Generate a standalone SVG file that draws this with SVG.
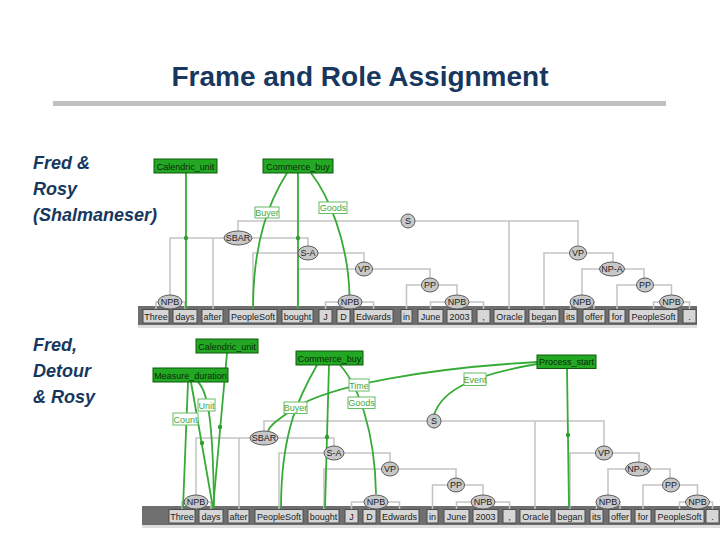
<svg xmlns="http://www.w3.org/2000/svg" width="720" height="540" viewBox="0 0 720 540">
<style>
.ttl{font-family:"Liberation Sans",Arial,sans-serif;font-weight:bold;font-size:28px;fill:#17375e}
.side{font-family:"Liberation Sans",Arial,sans-serif;font-weight:bold;font-style:italic;font-size:18px;fill:#17375e}
.t{stroke:#c3c3c3;stroke-width:1.5;fill:none}
.g{stroke:#36ab36;stroke-width:1.8;fill:none}
.dot{fill:#2e9e2e}
.nd ellipse{fill:#c8c8c8;stroke:#5a5a5a;stroke-width:1}
.nd text,.w text,.fr text,.rl text{font-family:"Liberation Sans",Arial,sans-serif;font-size:9px;text-anchor:middle}
.nd text{fill:#222}
.bar{fill:#6f6f6f}
.sh{fill:#dedede}
.w rect{fill:#d6d6d6;stroke:#4d4d4d;stroke-width:1}
.w text{fill:#222}
.fr rect{fill:#22a822;stroke:#0d5a0d;stroke-width:1}
.fr text{fill:#0a2a0a}
.rl rect{fill:#fff;stroke:#66bb66;stroke-width:1}
.rl text{fill:#44a844}
</style>
<rect width="720" height="540" fill="#fff"/>
<text class="ttl" x="360" y="86" text-anchor="middle">Frame and Role Assignment</text>
<rect x="53" y="101" width="613" height="5" fill="#c0c0c0"/>
<g id="label-top">
<text class="side" x="33" y="169">Fred &amp;</text>
<text class="side" x="33" y="195">Rosy</text>
<text class="side" x="33" y="221">(Shalmaneser)</text>
</g>
<g id="label-bottom">
<text class="side" x="33" y="351">Fred,</text>
<text class="side" x="33" y="377">Detour</text>
<text class="side" x="33" y="403">&amp; Rosy</text>
</g>
<!-- word bars -->
<rect class="bar" x="138" y="306" width="559" height="19"/>
<rect class="sh" x="138" y="325" width="559" height="3"/>
<rect class="bar" x="142" y="506" width="578" height="19"/>
<rect class="sh" x="142" y="525" width="578" height="3"/>
<g id="connectors">
<g id="tree-lines-1">
<path class="t" d="M238,231V221H578V246M509,221V309"/>
<path class="t" d="M170,295V238H308V246M213,238V309"/>
<path class="t" d="M156,309V302H185V309"/>
<path class="t" d="M253,309V253H364V262"/>
<path class="t" d="M298,309V269H430V278"/>
<path class="t" d="M406.5,309V285H457V295"/>
<path class="t" d="M430.5,309V302H483.5V309M459.5,302V309"/>
<path class="t" d="M325.5,309V302H373.5V309M343.5,302V309"/>
<path class="t" d="M544,309V253H613V262"/>
<path class="t" d="M582,295V269H644V278"/>
<path class="t" d="M617,309V285H671.5V295"/>
<path class="t" d="M570.5,309V302H594V309"/>
<path class="t" d="M653.5,309V302H689.5V309"/>
</g>
<g id="tree-lines-2" transform="translate(26,200)">
<path class="t" d="M238,231V221H578V246M509,221V309"/>
<path class="t" d="M170,295V238H308V246M213,238V309"/>
<path class="t" d="M156,309V302H185V309"/>
<path class="t" d="M253,309V253H364V262"/>
<path class="t" d="M298,309V269H430V278"/>
<path class="t" d="M406.5,309V285H457V295"/>
<path class="t" d="M430.5,309V302H483.5V309M459.5,302V309"/>
<path class="t" d="M325.5,309V302H373.5V309M343.5,302V309"/>
<path class="t" d="M544,309V253H613V262"/>
<path class="t" d="M582,295V269H644V278"/>
<path class="t" d="M617,309V285H671.5V295"/>
<path class="t" d="M570.5,309V302H594V309"/>
<path class="t" d="M653.5,309V302H686.5V309"/>
</g>
<g id="frame-lines-1">
<path class="g" d="M186,173V309"/>
<path class="g" d="M298,173V309"/>
<path class="g" d="M287,173C270,200 253,240 253,309"/>
<path class="g" d="M311,173C328,195 348,240 349.5,295"/>
<circle class="dot" cx="186" cy="238" r="2.2"/>
<circle class="dot" cx="298" cy="238" r="2.2"/>
</g>
<g id="frame-lines-2">
<path class="g" d="M227,353L213,508"/>
<path class="g" d="M188,382L183,508"/>
<path class="g" d="M191,382L213,508"/>
<path class="g" d="M198,382C208,392 213,420 214,508"/>
<path class="g" d="M329,365L325,508"/>
<path class="g" d="M317,365C300,395 281,430 281,508"/>
<path class="g" d="M340,365C358,385 375,430 376,494"/>
<path class="g" d="M537,362C430,368 330,385 295,408C280,418 270,425 268,431"/>
<path class="g" d="M537,364Q490,372 465,384Q440,396 434,415"/>
<path class="g" d="M567,368L569,508"/>
<circle class="dot" cx="220" cy="427" r="2.2"/>
<circle class="dot" cx="202" cy="443" r="2.2"/>
<circle class="dot" cx="327" cy="437" r="2.2"/>
<circle class="dot" cx="568" cy="435" r="2.2"/>
</g>
</g>
<!-- tree 1 nodes -->
<g id="tree1">
<g class="nd" id="S-1"><ellipse cx="408" cy="221" rx="7" ry="7"/><text x="408" y="224.2">S</text></g>
<g class="nd" id="SBAR-1"><ellipse cx="238" cy="238" rx="14" ry="7"/><text x="238" y="241.2">SBAR</text></g>
<g class="nd" id="NPB1-1"><ellipse cx="170" cy="302" rx="12" ry="7"/><text x="170" y="305.2">NPB</text></g>
<g class="nd" id="SA-1"><ellipse cx="308" cy="253" rx="10" ry="7"/><text x="308" y="256.2">S-A</text></g>
<g class="nd" id="VP1-1"><ellipse cx="364" cy="269" rx="8.5" ry="7"/><text x="364" y="272.2">VP</text></g>
<g class="nd" id="PP1-1"><ellipse cx="430" cy="285" rx="8.5" ry="7"/><text x="430" y="288.2">PP</text></g>
<g class="nd" id="NPB2-1"><ellipse cx="350" cy="302" rx="12" ry="7"/><text x="350" y="305.2">NPB</text></g>
<g class="nd" id="NPB3-1"><ellipse cx="457" cy="302" rx="12" ry="7"/><text x="457" y="305.2">NPB</text></g>
<g class="nd" id="VP2-1"><ellipse cx="578" cy="253" rx="8.5" ry="7"/><text x="578" y="256.2">VP</text></g>
<g class="nd" id="NPA-1"><ellipse cx="612" cy="269" rx="12.5" ry="7"/><text x="612" y="272.2">NP-A</text></g>
<g class="nd" id="PP2-1"><ellipse cx="645" cy="285" rx="8.5" ry="7"/><text x="645" y="288.2">PP</text></g>
<g class="nd" id="NPB4-1"><ellipse cx="582" cy="302" rx="12" ry="7"/><text x="582" y="305.2">NPB</text></g>
<g class="nd" id="NPB5-1"><ellipse cx="671.5" cy="302" rx="12" ry="7"/><text x="671.5" y="305.2">NPB</text></g>
<g class="w" id="words-1">
<rect x="143" y="309.5" width="26" height="13.5"/><text x="156" y="320">Three</text>
<rect x="173" y="309.5" width="24" height="13.5"/><text x="185" y="320">days</text>
<rect x="202" y="309.5" width="21" height="13.5"/><text x="212.5" y="320">after</text>
<rect x="229" y="309.5" width="48" height="13.5"/><text x="253" y="320">PeopleSoft</text>
<rect x="282" y="309.5" width="31" height="13.5"/><text x="297.5" y="320">bought</text>
<rect x="319" y="309.5" width="13" height="13.5"/><text x="325.5" y="320">J</text>
<rect x="337" y="309.5" width="13" height="13.5"/><text x="343.5" y="320">D</text>
<rect x="354" y="309.5" width="39" height="13.5"/><text x="373.5" y="320">Edwards</text>
<rect x="401" y="309.5" width="11" height="13.5"/><text x="406.5" y="320">in</text>
<rect x="418" y="309.5" width="25" height="13.5"/><text x="430.5" y="320">June</text>
<rect x="447" y="309.5" width="25" height="13.5"/><text x="459.5" y="320">2003</text>
<rect x="477" y="309.5" width="13" height="13.5"/><text x="483.5" y="320">,</text>
<rect x="494" y="309.5" width="31" height="13.5"/><text x="509.5" y="320">Oracle</text>
<rect x="529" y="309.5" width="30" height="13.5"/><text x="544" y="320">began</text>
<rect x="564" y="309.5" width="13" height="13.5"/><text x="570.5" y="320">its</text>
<rect x="583" y="309.5" width="22" height="13.5"/><text x="594" y="320">offer</text>
<rect x="609" y="309.5" width="16" height="13.5"/><text x="617" y="320">for</text>
<rect x="629" y="309.5" width="49" height="13.5"/><text x="653.5" y="320">PeopleSoft</text>
<rect x="683" y="309.5" width="13" height="13.5"/><text x="689.5" y="320">.</text>
</g>
</g>
<!-- tree 2 nodes -->
<g id="tree2" transform="translate(26,200)">
<g class="nd" id="S-2"><ellipse cx="408" cy="221" rx="7" ry="7"/><text x="408" y="224.2">S</text></g>
<g class="nd" id="SBAR-2"><ellipse cx="238" cy="238" rx="14" ry="7"/><text x="238" y="241.2">SBAR</text></g>
<g class="nd" id="NPB1-2"><ellipse cx="170" cy="302" rx="12" ry="7"/><text x="170" y="305.2">NPB</text></g>
<g class="nd" id="SA-2"><ellipse cx="308" cy="253" rx="10" ry="7"/><text x="308" y="256.2">S-A</text></g>
<g class="nd" id="VP1-2"><ellipse cx="364" cy="269" rx="8.5" ry="7"/><text x="364" y="272.2">VP</text></g>
<g class="nd" id="PP1-2"><ellipse cx="430" cy="285" rx="8.5" ry="7"/><text x="430" y="288.2">PP</text></g>
<g class="nd" id="NPB2-2"><ellipse cx="350" cy="302" rx="12" ry="7"/><text x="350" y="305.2">NPB</text></g>
<g class="nd" id="NPB3-2"><ellipse cx="457" cy="302" rx="12" ry="7"/><text x="457" y="305.2">NPB</text></g>
<g class="nd" id="VP2-2"><ellipse cx="578" cy="253" rx="8.5" ry="7"/><text x="578" y="256.2">VP</text></g>
<g class="nd" id="NPA-2"><ellipse cx="612" cy="269" rx="12.5" ry="7"/><text x="612" y="272.2">NP-A</text></g>
<g class="nd" id="PP2-2"><ellipse cx="645" cy="285" rx="8.5" ry="7"/><text x="645" y="288.2">PP</text></g>
<g class="nd" id="NPB4-2"><ellipse cx="582" cy="302" rx="12" ry="7"/><text x="582" y="305.2">NPB</text></g>
<g class="nd" id="NPB5-2"><ellipse cx="671.5" cy="302" rx="12" ry="7"/><text x="671.5" y="305.2">NPB</text></g>
<g class="w" id="words-2">
<rect x="143" y="309.5" width="26" height="13.5"/><text x="156" y="320">Three</text>
<rect x="173" y="309.5" width="24" height="13.5"/><text x="185" y="320">days</text>
<rect x="202" y="309.5" width="21" height="13.5"/><text x="212.5" y="320">after</text>
<rect x="229" y="309.5" width="48" height="13.5"/><text x="253" y="320">PeopleSoft</text>
<rect x="282" y="309.5" width="31" height="13.5"/><text x="297.5" y="320">bought</text>
<rect x="319" y="309.5" width="13" height="13.5"/><text x="325.5" y="320">J</text>
<rect x="337" y="309.5" width="13" height="13.5"/><text x="343.5" y="320">D</text>
<rect x="354" y="309.5" width="39" height="13.5"/><text x="373.5" y="320">Edwards</text>
<rect x="401" y="309.5" width="11" height="13.5"/><text x="406.5" y="320">in</text>
<rect x="418" y="309.5" width="25" height="13.5"/><text x="430.5" y="320">June</text>
<rect x="447" y="309.5" width="25" height="13.5"/><text x="459.5" y="320">2003</text>
<rect x="477" y="309.5" width="13" height="13.5"/><text x="483.5" y="320">,</text>
<rect x="494" y="309.5" width="31" height="13.5"/><text x="509.5" y="320">Oracle</text>
<rect x="529" y="309.5" width="30" height="13.5"/><text x="544" y="320">began</text>
<rect x="564" y="309.5" width="13" height="13.5"/><text x="570.5" y="320">its</text>
<rect x="583" y="309.5" width="22" height="13.5"/><text x="594" y="320">offer</text>
<rect x="609" y="309.5" width="16" height="13.5"/><text x="617" y="320">for</text>
<rect x="629" y="309.5" width="49" height="13.5"/><text x="653.5" y="320">PeopleSoft</text>
<rect x="680" y="309.5" width="13" height="13.5"/><text x="686.5" y="320">.</text>
</g>
</g>
<!-- role labels -->
<g class="rl" id="role-buyer-1"><rect x="255" y="207" width="24" height="11"/><text x="267" y="216">Buyer</text></g>
<g class="rl" id="role-goods-1"><rect x="319" y="202" width="28" height="11.5"/><text x="333" y="211">Goods</text></g>
<g class="rl" id="role-count-2"><rect x="173" y="413" width="25" height="12"/><text x="185.5" y="422.5">Count</text></g>
<g class="rl" id="role-unit-2"><rect x="198" y="399" width="17" height="12"/><text x="206.5" y="408.5">Unit</text></g>
<g class="rl" id="role-buyer-2"><rect x="284" y="402" width="23" height="11.5"/><text x="295.5" y="411">Buyer</text></g>
<g class="rl" id="role-time-2"><rect x="349" y="379" width="20" height="12"/><text x="359" y="388.5">Time</text></g>
<g class="rl" id="role-goods-2"><rect x="348" y="397" width="27" height="11.5"/><text x="361.5" y="406">Goods</text></g>
<g class="rl" id="role-event-2"><rect x="464" y="373" width="22" height="12.5"/><text x="475" y="382.5">Event</text></g>
<!-- frames -->
<g class="fr" id="frame-calendric-1"><rect x="154" y="159" width="63" height="14"/><text x="185.5" y="169.5">Calendric_unit</text></g>
<g class="fr" id="frame-commerce-1"><rect x="263" y="159" width="70" height="14"/><text x="298" y="169.5">Commerce_buy</text></g>
<g class="fr" id="frame-calendric-2"><rect x="196" y="339" width="62" height="14"/><text x="227" y="349.5">Calendric_unit</text></g>
<g class="fr" id="frame-measure-2"><rect x="153" y="368" width="75" height="14"/><text x="190.5" y="378.5">Measure_duration</text></g>
<g class="fr" id="frame-commerce-2"><rect x="296" y="351" width="67" height="14"/><text x="329.5" y="361.5">Commerce_buy</text></g>
<g class="fr" id="frame-process-2"><rect x="537" y="355" width="59" height="13.5"/><text x="566.5" y="365">Process_start</text></g>
</svg>
